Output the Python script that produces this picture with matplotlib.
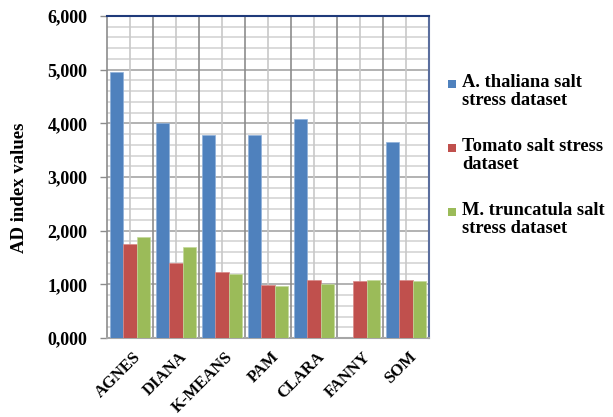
import matplotlib
matplotlib.use("Agg")
import matplotlib.pyplot as plt
from matplotlib.patches import Rectangle
from matplotlib.ticker import FuncFormatter, MultipleLocator
import numpy as np

methods = ["AGNES", "DIANA", "K-MEANS", "PAM", "CLARA", "FANNY", "SOM"]
series_names = [
    "A. thaliana salt\nstress dataset",
    "Tomato salt stress\ndataset",
    "M. truncatula salt\nstress dataset",
]
thaliana = [4950, 4000, 3790, 3780, 4090, 0, 3660]
tomato = [1750, 1400, 1230, 990, 1080, 1070, 1090]
truncatula = [1890, 1700, 1190, 960, 1000, 1090, 1070]
colors = ["#4F81BD", "#C0504D", "#9BBB59"]
edges = ["#8FB0DA", "#D98A88", "#C2D99A"]

plt.rcParams["font.family"] = ["Liberation Serif", "DejaVu Serif"]
plt.rcParams["font.weight"] = "bold"

W, H = 613, 417
fig = plt.figure(figsize=(W / 100, H / 100), dpi=100)
ax = fig.add_axes([107 / W, 1 - 338 / H, (429 - 107) / W, (338 - 16) / H])

x = np.arange(len(methods))
bw = 0.29
for i, vals in enumerate([thaliana, tomato, truncatula]):
    ax.bar(x + (i - 1) * bw, vals, bw, color=colors[i], edgecolor=edges[i],
           linewidth=0.5, zorder=3)

ax.set_xlim(-0.5, len(methods) - 0.5)
ax.set_ylim(0, 6000)

# y axis: major every 1000, minor every 200
ax.yaxis.set_major_locator(MultipleLocator(1000))
ax.yaxis.set_minor_locator(MultipleLocator(200))
ax.yaxis.set_major_formatter(FuncFormatter(lambda v, p: f"{int(v)//1000},{int(v)%1000:03d}"))
ax.tick_params(axis="y", which="major", length=5, width=1, color="#8C8C8C",
               labelsize=13, pad=9)
ax.tick_params(axis="y", which="minor", length=0)

# x axis: labels at category centres, grid at boundaries and centres
ax.set_xticks(x + 0.06)
ax.set_xticklabels(methods, rotation=45, ha="right", va="top",
                   rotation_mode="anchor", fontsize=12)
ax.tick_params(axis="x", which="both", length=0, pad=8)

for v in np.arange(200, 6000, 200):
    major = (v % 1000 == 0)
    ax.axhline(v, color="#A6A6A6" if major else "#D4D4D4",
               linewidth=1.2, zorder=1)
for b in np.arange(0.5, len(methods) - 0.5, 1.0):
    ax.axvline(b, color="#8C8C8C", linewidth=1.2, zorder=1)
for c in x:
    ax.axvline(c, color="#C8C8C8", linewidth=1.2, zorder=1)

ax.spines["left"].set_color("#8C8C8C")
ax.spines["left"].set_linewidth(1.2)
ax.spines["bottom"].set_color("#A6A6A6")
ax.spines["bottom"].set_linewidth(1.5)
ax.spines["top"].set_color("#1F3A7A")
ax.spines["top"].set_linewidth(1.5)
ax.spines["right"].set_color("#5A6E9E")
ax.spines["right"].set_linewidth(1.5)

fig.text(20 / W, 1 - 188 / H, "AD index values", rotation=90,
         ha="center", va="center", fontsize=13.5, fontweight="bold")

# legend drawn at fixed positions on the right
entry_y = [84, 148, 212]
for i, name in enumerate(series_names):
    y0 = entry_y[i]
    fig.patches.append(Rectangle(((448) / W, 1 - (y0 + 4) / H), 8 / W, 8 / H,
                                 transform=fig.transFigure, facecolor=colors[i],
                                 edgecolor="none"))
    fig.text(462 / W, 1 - (y0 - 10) / H, name, ha="left", va="top",
             fontsize=13.3, fontweight="bold", linespacing=1.1)

fig.savefig("out.png", dpi=100)
